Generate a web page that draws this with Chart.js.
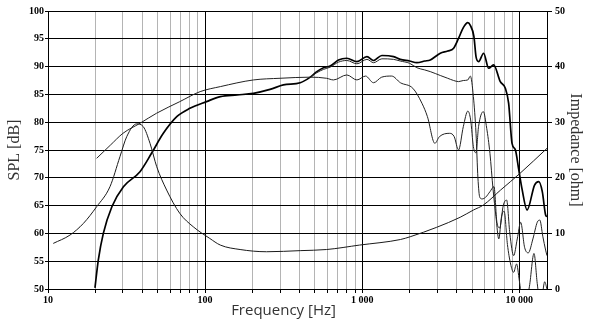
<!DOCTYPE html>
<html>
<head>
<meta charset="utf-8">
<script src="https://cdn.jsdelivr.net/npm/chart.js@4.4.0/dist/chart.umd.min.js"></script>
<style>
  html, body { margin: 0; padding: 0; background: #fff; }
  #chart { display: block; }
</style>
</head>
<body>
<canvas id="chart" width="592" height="324"></canvas>
<script>
// frequency grid (Hz) - decades get labels, the rest are minor lines
var freqTicks = [10, 20, 30, 40, 50, 60, 70, 80, 90,
    100, 200, 300, 400, 500, 600, 700, 800, 900,
    1000, 2000, 3000, 4000, 5000, 6000, 7000, 8000, 9000, 10000];
var decadeLabels = { 10: '10', 100: '100', 1000: '1 000', 10000: '10 000' };

// on-axis SPL (thick)
var freqA = [19.9, 20.9, 22.5, 25.5, 30.2, 38.5, 45.8, 54.2, 66, 80, 102, 125, 160, 203, 259, 315, 403, 467,
    514, 567, 625, 706, 798, 925, 1072, 1181, 1334, 1584, 1746, 2000, 2228, 2500, 2710, 3140, 3500, 3818,
    4105, 4400, 4700, 4875, 5140, 5300, 5510, 5925, 6380, 6860, 7565, 8145, 8550, 8985, 9440, 9910,
    10400, 11200, 12500, 13300, 14000, 14700, 15000];
var splA = [50.2, 55.2, 60, 64.8, 68.4, 71.1, 74.5, 78, 81, 82.5, 83.7, 84.6, 84.9, 85.2, 85.9, 86.7, 87.1, 88.1,
    89.1, 89.8, 90.1, 91.2, 91.5, 90.9, 91.8, 91.1, 92.0, 91.8, 91.3, 91.0, 90.7, 91.0, 91.2, 92.4, 92.8, 93.3,
    95.1, 97, 97.9, 97.4, 95.4, 91.8, 90.9, 92.4, 89.7, 90.3, 87.3, 86.1, 83.4, 76.2, 75, 71.5,
    68, 64.2, 68.7, 69.3, 67.5, 63.3, 63];

// second SPL curve (thin, upper)
var freqB = [467, 514, 567, 625, 706, 798, 925, 1072, 1181, 1334, 1584, 1746, 2000, 2228, 2500, 2710, 3140,
    3500, 3818, 4105, 4400, 4700, 4875, 5100, 5300, 5450, 5600, 5800, 6100, 6500, 6900, 7200, 7500, 7900,
    8300, 8700, 9200, 9700, 10200, 10800, 11400, 12200, 13000, 13500, 14100, 14700, 15000];
var splB = [88.1, 88.9, 89.5, 89.9, 90.8, 91.1, 90.5, 91.3, 90.7, 91.4, 91.3, 91.0, 90.6, 89.8, 89.4, 89.1, 88.4,
    87.9, 87.5, 87.3, 87.5, 87.6, 88.3, 84.6, 78, 70, 66.5, 66.2, 66.5, 67.5, 68.4, 62, 61, 65,
    66, 60, 56, 59, 62, 57.5, 56.5, 59, 62, 62.4, 59.5, 57, 56];

// third SPL curve (thin, lower)
var freqC = [20.4, 25, 30, 38.5, 49, 69, 93, 125, 203, 300, 467, 593, 656, 798, 925, 1050, 1180, 1330, 1540,
    1750, 2100, 2400, 2600, 2900, 3100, 3600, 3850, 4100, 4400, 4700, 4900, 5100, 5300, 5500, 5900, 6200,
    6500, 6800, 7100, 7400, 7700, 8000, 8400, 8800, 9200, 9600, 10000, 10400, 10900, 11600, 12400, 13000,
    13500, 14000, 14500, 15000];
var splC = [73.5, 75.9, 78, 79.8, 81.6, 83.7, 85.5, 86.4, 87.6, 87.9, 88.1, 87.9, 87.6, 88.5, 87.6, 88.3, 87.1, 88.1, 88.3,
    87.1, 86.1, 83.4, 81, 76.2, 77.4, 78, 77.4, 75, 79.2, 82, 80.4, 75.6, 74.5, 79.2, 81.9, 78.9,
    74.4, 68, 63, 59, 63, 64, 58, 54.5, 53, 54.5, 51.5, 48, 47, 50.5, 56.4, 51,
    48, 49, 51.3, 50];

// impedance (ohm, right axis)
var freqZ = [10.8, 13.8, 16.8, 20.4, 24.8, 28.7, 31.7, 36.7, 40.4, 44.6, 49.2, 56.9, 69, 84, 107, 125, 167, 246,
    403, 593, 962, 1750, 2020, 2980, 4200, 5100, 5900, 7600, 10100, 15000];
var ohmZ = [8.2, 9.7, 11.8, 14.8, 18.4, 23.8, 27.4, 29.7, 29.2, 26.2, 22, 17.8, 13.6, 11.2, 9.1, 7.9, 7.1, 6.7,
    6.9, 7.1, 7.9, 8.9, 9.4, 11.1, 12.9, 14.2, 15.1, 17.8, 20.8, 25.3];

function pts(xs, ys) {
    return xs.map(function (x, i) { return { x: x, y: ys[i] }; });
}
function isDecade(v) {
    return Math.abs(Math.log10(v) - Math.round(Math.log10(v))) < 1e-9;
}

var tickFont = { family: 'Liberation Serif', size: 10, weight: 'bold' };
var titleFont = { family: 'Liberation Serif', size: 16 };

// x-axis title sits a bit left of centre in the original
var xTitle = {
    id: 'xTitle',
    afterDraw: function (chart) {
        var a = chart.chartArea, ctx = chart.ctx;
        ctx.save();
        ctx.font = '15px "Open Sans"';
        ctx.fillStyle = '#333';
        ctx.textAlign = 'center';
        ctx.textBaseline = 'middle';
        ctx.fillText('Frequency [Hz]', a.left + (a.right - a.left) * 0.472, 311);
        ctx.restore();
    }
};

var line = function (data, width, color, axis) {
    return {
        data: data, borderColor: color, borderWidth: width, pointRadius: 0,
        cubicInterpolationMode: 'monotone', fill: false, yAxisID: axis
    };
};

new Chart(document.getElementById('chart').getContext('2d'), {
    type: 'line',
    data: {
        datasets: [
            line(pts(freqZ, ohmZ), 1, '#1a1a1a', 'y2'),
            line(pts(freqC, splC), 1, '#222', 'y'),
            line(pts(freqB, splB), 1, '#222', 'y'),
            line(pts(freqA, splA), 1.7, '#000', 'y')
        ]
    },
    options: {
        responsive: false,
        animation: false,
        layout: { padding: { top: 11, left: 0, right: 0, bottom: 0 } },
        plugins: { legend: { display: false }, tooltip: { enabled: false } },
        scales: {
            x: {
                type: 'logarithmic',
                min: 10,
                max: 15000,
                afterBuildTicks: function (scale) {
                    scale.ticks = freqTicks.map(function (v) { return { value: v }; });
                },
                afterFit: function (scale) { scale.height = 35; },
                ticks: {
                    autoSkip: false, maxRotation: 0, padding: 1,
                    color: '#000', font: tickFont,
                    callback: function (v) { return decadeLabels[v] || ''; }
                },
                grid: {
                    color: function (c) { return c.tick && isDecade(c.tick.value) ? '#000' : '#b4b4b4'; },
                    tickColor: '#000',
                    tickLength: 4,
                    lineWidth: 1
                },
                border: { color: '#000' }
            },
            y: {
                position: 'left',
                min: 50,
                max: 100,
                afterFit: function (scale) { scale.width = 48; },
                ticks: { stepSize: 5, padding: 1, color: '#000', font: tickFont },
                grid: { color: '#000', tickLength: 3, lineWidth: 1 },
                border: { color: '#000' },
                title: { display: true, text: 'SPL [dB]', color: '#333', font: titleFont, padding: { top: 5, bottom: 0 } }
            },
            y2: {
                position: 'right',
                min: 0,
                max: 50,
                afterFit: function (scale) { scale.width = 45; },
                ticks: { stepSize: 10, padding: 3, color: '#000', font: tickFont },
                grid: { drawOnChartArea: false, color: '#000', tickLength: 5 },
                border: { color: '#000' },
                title: { display: true, text: 'Impedance [ohm]', color: '#333', font: titleFont, padding: { top: 7, bottom: 0 } }
            }
        }
    },
    plugins: [xTitle]
});
</script>
</body>
</html>
